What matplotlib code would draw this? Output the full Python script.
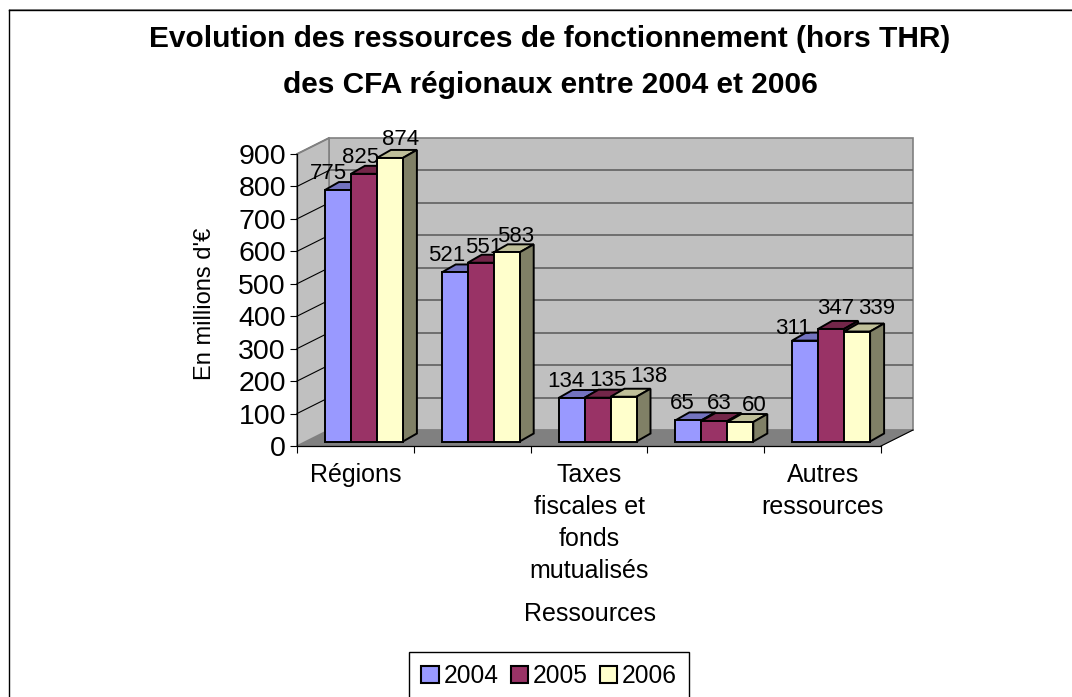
import matplotlib
matplotlib.use("Agg")
import matplotlib.pyplot as plt
from matplotlib.lines import Line2D
from matplotlib.patches import Patch, Rectangle
from matplotlib.transforms import Affine2D

plt.rcParams['font.family'] = ['Liberation Sans', 'DejaVu Sans']

title = "Evolution des ressources de fonctionnement (hors THR)\ndes CFA régionaux entre 2004 et 2006"
categories = ["Régions", "", "Taxes\nfiscales et\nfonds\nmutualisés", "", "Autres\nressources"]
years = ["2004", "2005", "2006"]
v2004 = [775, 521, 134, 65, 311]
v2005 = [825, 551, 135, 63, 347]
v2006 = [874, 583, 138, 60, 339]
yticks = list(range(0, 1000, 100))

face = ["#9999FF", "#993366", "#FFFFCC"]
top = ["#7373BF", "#732649", "#BFBF99"]
side = ["#4D4D80", "#4D1933", "#808066"]

# label offsets from the top centre of each bar, in pixels
label_dx = [[-9, -8, -6, -6, -12], [-3, 3, 10, 5, 5], [11, 9, 25, 14, 20]]
label_dy = [[17, 17, 17, 17, 12], [16, 15, 17, 18, 20], [18, 16, 20, 17, 23]]

W, H = 1072, 697
fig = plt.figure(figsize=(W / 100, H / 100), dpi=100, facecolor="white")
L, R, T, B = 297, 881, 154, 446
ax = fig.add_axes([L / W, (H - B) / H, (R - L) / W, (B - T) / H])
ax.set_xlim(0, 5)
ax.set_ylim(0, 900)
ax.patch.set_visible(False)

# chart frame: only the top and left edges fall inside the picture
for xs, ys, col, lw in [((8.7, W), (9.3, 9.3), "#909090", 0.7),
                        ((8.7, W), (10.4, 10.4), "black", 1.0),
                        ((8.9, 8.9), (10, H), "black", 1.0)]:
    fig.add_artist(Line2D([x / W for x in xs], [1 - y / H for y in ys],
                          transform=fig.transFigure, color=col, lw=lw, zorder=-1))

px_x = 5 / (R - L)
px_y = 900 / (B - T)
DX, DY = 32, 16
ddx, ddy = DX * px_x, DY * px_y

back = ax.transData + Affine2D().translate(DX, DY)
wall = "#C0C0C0"
edge = "#808080"
# back wall, floor, side wall
ax.add_patch(Rectangle((0, 0), 5, 900, transform=back, fc=wall, ec=edge, lw=1.2, clip_on=False, zorder=1))
ax.fill([0, 5, 5 + ddx, ddx], [0, 0, ddy, ddy], fc=edge, ec=edge, lw=0.5, clip_on=False, zorder=1)
ax.fill([0, ddx, ddx, 0], [0, ddy, 900 + ddy, 900], fc=wall, ec=edge, lw=1.2, clip_on=False, zorder=1)
ax.hlines(yticks[1:-1], 0, 5, transform=back, colors="#606060", lw=1.2, clip_on=False, zorder=1.5)
for v in yticks[1:-1]:
    ax.plot([0, ddx], [v, v + ddy], color="black", lw=0.8, clip_on=False, zorder=1.5)
ax.plot([0, ddx], [900, 900 + ddy], color=edge, lw=1.2, clip_on=False, zorder=1.5)
ax.plot([5, 5 + ddx], [0, ddy], color="black", lw=0.8, clip_on=False, zorder=1.5)

# bars
bar_px = 26.0
bw = bar_px * px_x
bdx, bdy = 8.5, 4.5
bar_dx, bar_dy = 14, 8
plane = ax.transData + Affine2D().translate(bdx, bdy)
series = [v2004, v2005, v2006]
zo = 3.0
for c in range(len(categories)):
    for s, vals in enumerate(series):
        v = vals[c]
        x0 = c + 0.5 + (s - 1.5) * bw
        x1 = x0 + bw
        ex, ey = bar_dx * px_x, bar_dy * px_y
        sx, sy = bdx * px_x, bdy * px_y
        common = dict(ec="black", lw=1.4, clip_on=False, zorder=zo, joinstyle="miter")
        ax.fill([x0 + sx, x0 + sx + ex, x1 + sx + ex, x1 + sx],
                [v + sy, v + sy + ey, v + sy + ey, v + sy], fc=top[s], **common)
        ax.fill([x1 + sx, x1 + sx + ex, x1 + sx + ex, x1 + sx],
                [sy, sy + ey, v + sy + ey, v + sy], fc=side[s], **common)
        ax.bar(x0, v, width=bw, align="edge", color=face[s], edgecolor="black", linewidth=1.4,
               transform=plane, clip_on=False, zorder=zo + 0.01)
        zo += 0.1
        ax.annotate(str(v), xy=(x0 + bw / 2, v), xycoords=plane,
                    xytext=(label_dx[s][c], label_dy[s][c]), textcoords="offset pixels",
                    ha="center", va="center", fontsize=16, color="black",
                    annotation_clip=False, zorder=20)

# axes
for name in ("top", "right"):
    ax.spines[name].set_visible(False)
for name in ("left", "bottom"):
    ax.spines[name].set_linewidth(0.9)
    ax.spines[name].set_zorder(2)
ax.set_yticks(yticks)
ax.tick_params(axis="y", labelsize=20.5, length=5, width=0.8, pad=3)
ax.set_xticks(range(6))
ax.set_xticklabels([])
ax.tick_params(axis="x", which="major", length=5, width=0.8)
ax.set_xticks([i + 0.5 for i in range(5)], minor=True)
ax.set_xticklabels(categories, minor=True, fontsize=18, linespacing=1.42, ha="center", va="top")
ax.tick_params(axis="x", which="minor", length=0, pad=12)

fig.text(550 / W, 1 - 62 / H, title, ha="center", va="center", fontsize=21.5, fontweight="bold", linespacing=1.82)
fig.text(205 / W, 1 - 304 / H, "En millions d'€", rotation=90, ha="center", va="center", fontsize=17)
fig.text(590 / W, 1 - 614 / H, "Ressources", ha="center", va="center", fontsize=18)

handles = [Patch(fc=face[i], ec="black", lw=1.5, label=years[i]) for i in range(3)]
leg = fig.legend(handles=handles, loc="upper left", bbox_to_anchor=(409 / W, 1 - 652 / H), ncol=3,
                 frameon=True, fancybox=False, edgecolor="black", framealpha=1, fontsize=17.7,
                 handlelength=0.7, handleheight=0.7, handletextpad=0.2, columnspacing=0.5,
                 borderpad=0.5, borderaxespad=0)
leg.get_frame().set_linewidth(1.0)

fig.savefig("out.png", dpi=100)
